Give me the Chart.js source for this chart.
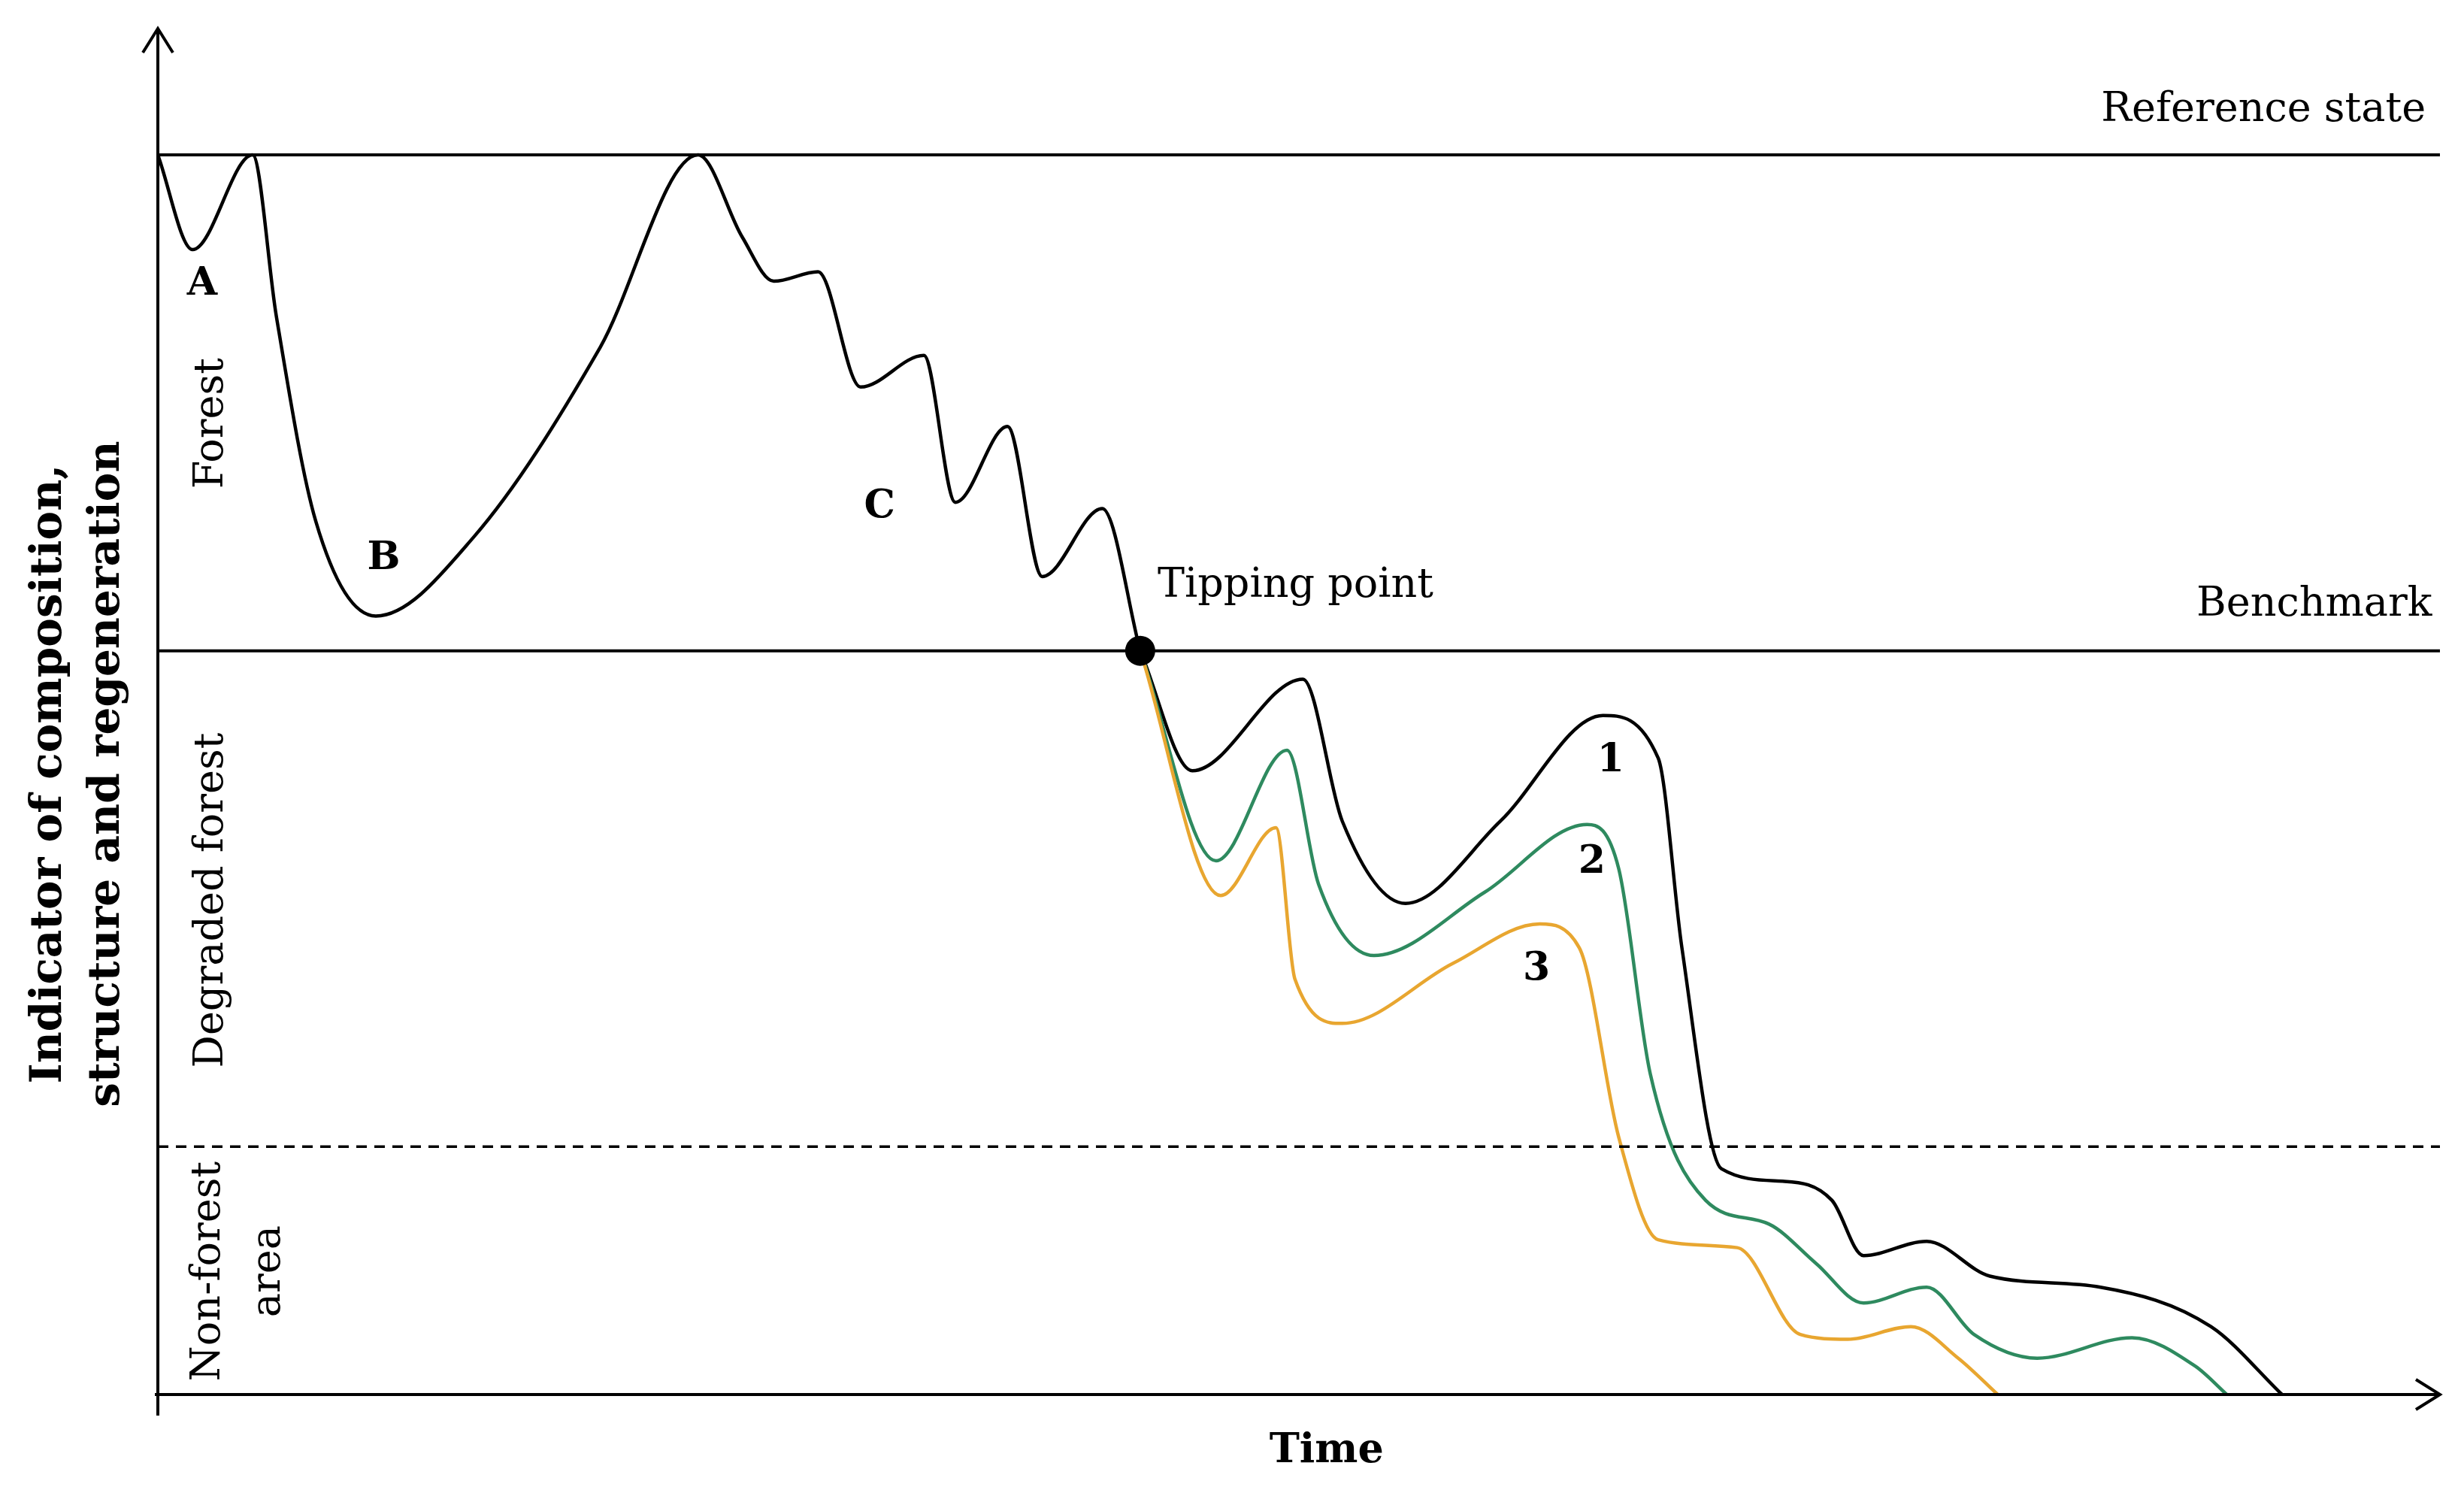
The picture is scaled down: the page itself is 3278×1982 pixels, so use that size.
<!DOCTYPE html>
<html>
<head>
<meta charset="utf-8">
<script src="https://cdn.jsdelivr.net/npm/chart.js@4/dist/chart.umd.min.js"></script>
<style>
  html, body { margin: 0; background: #fff; }
  #wrap { width: 3278px; height: 1982px; }
</style>
</head>
<body>
<div id="wrap"><canvas id="c"></canvas></div>
<script>
// time (x) and indicator (y) values
const mainX = [0, 22, 60, 75, 100, 138, 200, 280, 342, 370, 390, 418, 445, 485, 505, 538, 560, 598, 622]
const mainY = [785, 725, 785, 683, 553, 493, 543, 663, 785, 733, 705, 711, 638, 658, 565, 613, 518, 561, 471]
const path1X = [622, 655, 725, 750, 790, 850, 915, 950, 965, 990, 1030, 1060, 1080, 1120, 1160, 1230, 1300, 1345]
const path1Y = [471, 395, 453, 363, 311, 363, 430, 403, 283, 143, 135, 123, 88, 97, 75, 68, 43, 0]
const path2X = [622, 670, 715, 735, 770, 840, 905, 925, 945, 980, 1020, 1050, 1080, 1120, 1150, 1190, 1250, 1290, 1310]
const path2Y = [471, 338, 408, 323, 278, 318, 361, 333, 203, 123, 108, 83, 58, 68, 38, 23, 36, 18, 0]
const path3X = [622, 673, 708, 720, 750, 820, 875, 900, 925, 950, 1000, 1040, 1070, 1110, 1140, 1165]
const path3Y = [471, 316, 359, 263, 235, 273, 298, 283, 163, 98, 93, 38, 35, 43, 23, 0]

const referenceLevel = 785
const benchmarkLevel = 471
const nonForestLevel = 157
const tippingPoint = { x: 622, y: 471 }
const xMax = 1445
const yMax = 865

const pts = (xs, ys) => xs.map((x, i) => ({ x, y: ys[i] }))
const hline = v => [{ x: 0, y: v }, { x: xMax, y: v }]

const serif = '"DejaVu Serif", "Liberation Serif", serif'

const curve = (data, color) => ({
  data, borderColor: color, borderWidth: 4.5, pointRadius: 0,
  cubicInterpolationMode: "monotone", fill: false
})

/* ---------- axes, arrows and text ---------- */
const decor = {
  id: "decor",
  afterDatasetsDraw(chart) {
    const { ctx, scales: { x, y } } = chart
    const x0 = x.getPixelForValue(0), y0 = y.getPixelForValue(0)
    const xr = x.getPixelForValue(xMax), yt = y.getPixelForValue(yMax)
    ctx.save()
    ctx.strokeStyle = "#000"
    ctx.lineWidth = 4
    ctx.beginPath()
    ctx.moveTo(x0, y0 + 28); ctx.lineTo(x0, yt)
    ctx.moveTo(x0 - 4, y0); ctx.lineTo(xr, y0)
    ctx.moveTo(x0 - 20, yt + 32); ctx.lineTo(x0, yt); ctx.lineTo(x0 + 20, yt + 32)
    ctx.moveTo(xr - 32, y0 - 20); ctx.lineTo(xr, y0); ctx.lineTo(xr - 32, y0 + 20)
    ctx.stroke()

    // tipping point
    ctx.fillStyle = "#000"
    ctx.beginPath()
    ctx.arc(x.getPixelForValue(tippingPoint.x), y.getPixelForValue(tippingPoint.y), 20, 0, Math.PI * 2)
    ctx.fill()

    const text = (s, vx, vy, opts = {}) => {
      ctx.font = (opts.bold ? "bold " : "") + (opts.size || 54) + "px " + serif
      ctx.textAlign = opts.align || "center"
      ctx.textBaseline = "middle"
      ctx.fillText(s, x.getPixelForValue(vx), y.getPixelForValue(vy))
    }
    text("Reference state", 1436, 813, { align: "right" })
    text("Benchmark", 1440, 500, { align: "right" })
    text("Tipping point", 633, 512, { align: "left" })
    text("A", 28, 703, { bold: true, size: 52 })
    text("B", 143, 529, { bold: true, size: 52 })
    text("C", 457, 562, { bold: true, size: 52 })
    text("1", 920, 401, { bold: true, size: 52 })
    text("2", 908, 337, { bold: true, size: 52 })
    text("3", 873, 269, { bold: true, size: 52 })
    text("Time", 740, -36, { bold: true, size: 54 })

    const vtext = (s, px, vy, opts = {}) => {
      ctx.save()
      ctx.translate(px, y.getPixelForValue(vy))
      ctx.rotate(-Math.PI / 2)
      ctx.font = (opts.bold ? "bold " : "") + (opts.size || 54) + "px " + serif
      ctx.textAlign = "center"
      ctx.textBaseline = "middle"
      ctx.fillText(s, 0, 0)
      ctx.restore()
    }
    vtext("Forest", x0 + 72, 615)
    vtext("Degraded forest", x0 + 72, 313)
    vtext("Non-forest", x0 + 68, 78)
    vtext("area", x0 + 148, 78)
    vtext("Indicator of composition,", 66, 393, { bold: true, size: 58 })
    vtext("structure and regeneration", 143, 393, { bold: true, size: 58 })
    ctx.restore()
  }
}

new Chart(document.getElementById("c"), {
  type: "line",
  data: {
    datasets: [
      { data: hline(referenceLevel), borderColor: "#000", borderWidth: 4, pointRadius: 0 },
      { data: hline(benchmarkLevel), borderColor: "#000", borderWidth: 4, pointRadius: 0 },
      { data: hline(nonForestLevel), borderColor: "#000", borderWidth: 3.5, pointRadius: 0, borderDash: [14, 10] },
      curve(pts(path3X, path3Y), "#e8a630"),
      curve(pts(path2X, path2Y), "#2e8a5f"),
      curve(pts(path1X, path1Y), "#000"),
      curve(pts(mainX, mainY), "#000")
    ]
  },
  options: {
    responsive: true,
    maintainAspectRatio: false,
    animation: false,
    layout: { padding: { left: 210, right: 32, top: 38, bottom: 127 } },
    plugins: { legend: { display: false }, tooltip: { enabled: false } },
    scales: {
      x: { type: "linear", min: 0, max: xMax, display: false },
      y: { type: "linear", min: 0, max: yMax, display: false }
    }
  },
  plugins: [decor]
})
</script>
</body>
</html>
